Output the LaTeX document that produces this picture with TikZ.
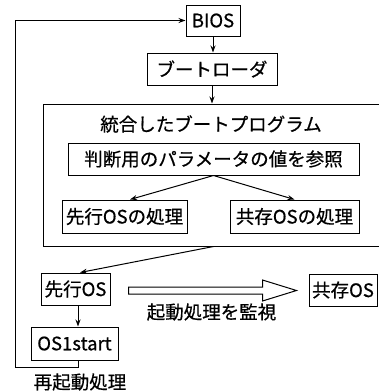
\documentclass[tikz,border=0pt]{standalone}
\usepackage{fontspec}
\setmainfont{Noto Sans CJK JP}
\newfontfamily\medfont{Noto Sans CJK JP}[FakeBold=0.6]
\usetikzlibrary{calc,arrows.meta}
\begin{document}
\begin{tikzpicture}[x=1pt,y=-1pt,
  font=\medfont\fontsize{18.5}{20}\selectfont,
  line width=1pt,
  box/.style={draw, inner sep=0pt, minimum height=31pt},
  arr/.style={-{Stealth[length=7pt,width=5pt]}}]
\useasboundingbox (0,0) rectangle (379,392);
\clip (0,0) rectangle (379,392);
\node[box, minimum width=54pt] (bios) at (213,20.5) {BIOS};
\node[box, minimum width=130pt, minimum height=32pt] (loader) at (212,69) {ブートローダ};
\node[draw, inner sep=0pt, minimum width=357pt, minimum height=142pt] (prog) at (221.5,175) {};
\node (title) at (211,124) {統合したブートプログラム};
\node[box, minimum width=291pt, minimum height=32pt] (judge) at (213.5,159) {判断用のパラメータの値を参照};
\node[box, minimum width=125pt, minimum height=33pt] (p1) at (124.5,216.5) {先行OSの処理};
\node[box, minimum width=129pt, minimum height=33pt] (p2) at (294.5,216.5) {共存OSの処理};
\node[box, minimum width=69pt, minimum height=32pt] (senko) at (75.5,289) {先行OS};
\node[box, minimum width=87pt, minimum height=33pt] (start) at (74.5,343.5) {OS1start};
\node[box, minimum width=68pt, minimum height=32pt] (kyozon) at (343,290) {共存OS};
\node (restart) at (80,382) {再起動処理};
\node (monitor) at (211.5,312) {起動処理を監視};
\coordinate (lc) at (15,20.5);

\draw[arr] (bios.south) -- (bios.south |- loader.north);
\draw[arr] (loader.south) -- (loader.south |- prog.north);
\draw[arr] (judge.south) -- ($(p1.north)+(5.5,0)$);
\draw[arr] (judge.south) -- (p2.north);
\draw[arr] (judge.south |- prog.south) -- ($(senko.north)+(4.5,0)$);
\draw[arr] ($(senko.south)+(2.5,0)$) -- ($(start.north)+(3.5,0)$);
\draw[arr] ($(start.south)+(3.5,0)$) -- ++(0,7) -| (lc) -- (bios.west);

\coordinate (da) at ($(senko.east)+(18,1.5)$);
\coordinate (db) at ($(kyozon.west)+(-12,0.5)$);
\draw[fill=white] ($(da)+(0,-3.5)$) -- ($(db)+(-34,-3.5)$) -- ($(db)+(-34,-10.5)$) -- (db)
  -- ($(db)+(-34,10.5)$) -- ($(db)+(-34,3.5)$) -- ($(da)+(0,3.5)$) -- cycle;
\end{tikzpicture}
\end{document}
